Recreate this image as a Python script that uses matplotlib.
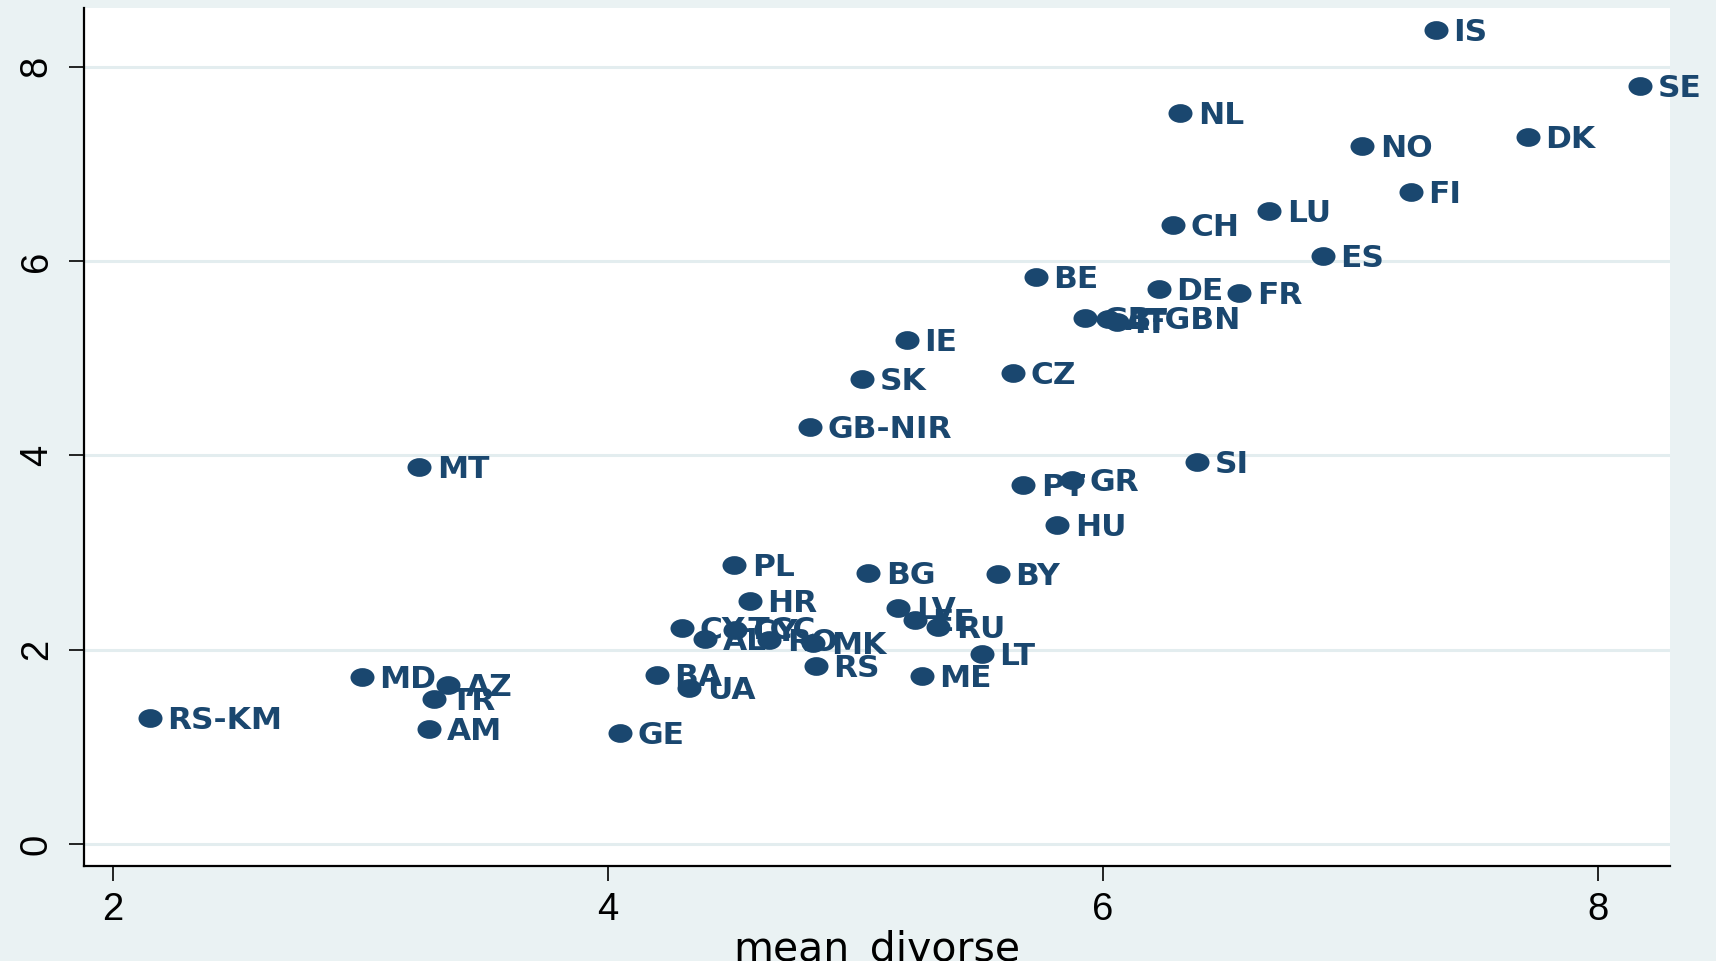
import matplotlib
matplotlib.use("Agg")
import matplotlib.pyplot as plt
from matplotlib.path import Path
from matplotlib.transforms import Affine2D

countries = ["IS", "SE", "NL", "NO", "DK", "FI", "LU", "CH", "ES", "BE", "DE", "FR",
             "GB-GBN", "AT", "IT", "IE", "CZ", "SK", "GB-NIR", "MT", "SI", "PT", "GR",
             "HU", "PL", "BG", "BY", "HR", "LV", "EE", "RU", "CY-TCC", "AL", "CY", "RO",
             "MK", "LT", "RS", "ME", "BA", "UA", "GE", "MD", "AZ", "TR", "AM", "RS-KM"]
mean_divorse = [7.345, 8.171, 6.314, 7.049, 7.717, 7.246, 6.673, 6.283, 6.889, 5.729, 6.227, 6.552,
                5.928, 6.021, 6.058, 5.208, 5.637, 5.027, 4.819, 3.239, 6.382, 5.679, 5.875,
                5.817, 4.512, 5.053, 5.576, 4.575, 5.174, 5.242, 5.336, 4.299, 4.393, 4.514, 4.653,
                4.831, 5.511, 4.842, 5.269, 4.200, 4.330, 4.050, 3.006, 3.356, 3.298, 3.278, 2.151]
yvals = [8.375, 7.805, 7.527, 7.187, 7.280, 6.714, 6.513, 6.367, 6.052, 5.839, 5.712, 5.668,
         5.414, 5.403, 5.373, 5.186, 4.848, 4.781, 4.297, 3.881, 3.929, 3.695, 3.746,
         3.283, 2.872, 2.793, 2.779, 2.504, 2.426, 2.305, 2.237, 2.226, 2.110, 2.203, 2.100,
         2.066, 1.952, 1.832, 1.729, 1.739, 1.602, 1.139, 1.722, 1.636, 1.490, 1.184, 1.297]
xticks = [2, 4, 6, 8]
yticks = [0, 2, 4, 6, 8]

BG = "#EAF2F3"
NAVY = "#1A476F"

fig = plt.figure(figsize=(17.16, 9.61), dpi=100, facecolor=BG)
W, H = 1716, 961
ax = fig.add_axes([84 / W, 1 - 866 / H, (1670 - 84) / W, (866 - 8) / H])
ax.set_facecolor("white")
ax.set_xlim(1.884, 8.292)
ax.set_ylim(-0.226, 8.604)

for yt in yticks:
    ax.axhline(yt, color="#E3EDEF", lw=2.2, zorder=0)

ell = Path.unit_circle().transformed(Affine2D().scale(1.0, 0.78))
ax.scatter(mean_divorse, yvals, marker=ell, s=17.3 ** 2, color=NAVY, linewidths=0, zorder=3)

for lab, xv, yv in zip(countries, mean_divorse, yvals):
    ax.annotate(lab, (xv, yv), xytext=(12.5, -1.8), textcoords="offset points",
                ha="left", va="center", fontsize=22.5, fontweight="bold",
                family=["DejaVu Sans"], color=NAVY, zorder=4)

for s in ["top", "right"]:
    ax.spines[s].set_visible(False)
for s in ["left", "bottom"]:
    ax.spines[s].set_linewidth(1.6)
    ax.spines[s].set_color("black")

ax.set_xticks(xticks)
ax.set_yticks(yticks)
ax.set_xticklabels([str(v) for v in xticks], fontsize=27.5, family="Liberation Sans")
ax.set_yticklabels([str(v) for v in yticks], fontsize=27.5, family="Liberation Sans",
                   rotation=90, va="center")
ax.tick_params(axis="both", length=11, width=1.2, color="black", direction="out")
ax.tick_params(axis="x", pad=8)
ax.tick_params(axis="y", pad=10)
ax.set_xlabel("mean_divorse", fontsize=29.5, family="DejaVu Sans", labelpad=1)

fig.savefig("out.png", dpi=100, facecolor=BG)
